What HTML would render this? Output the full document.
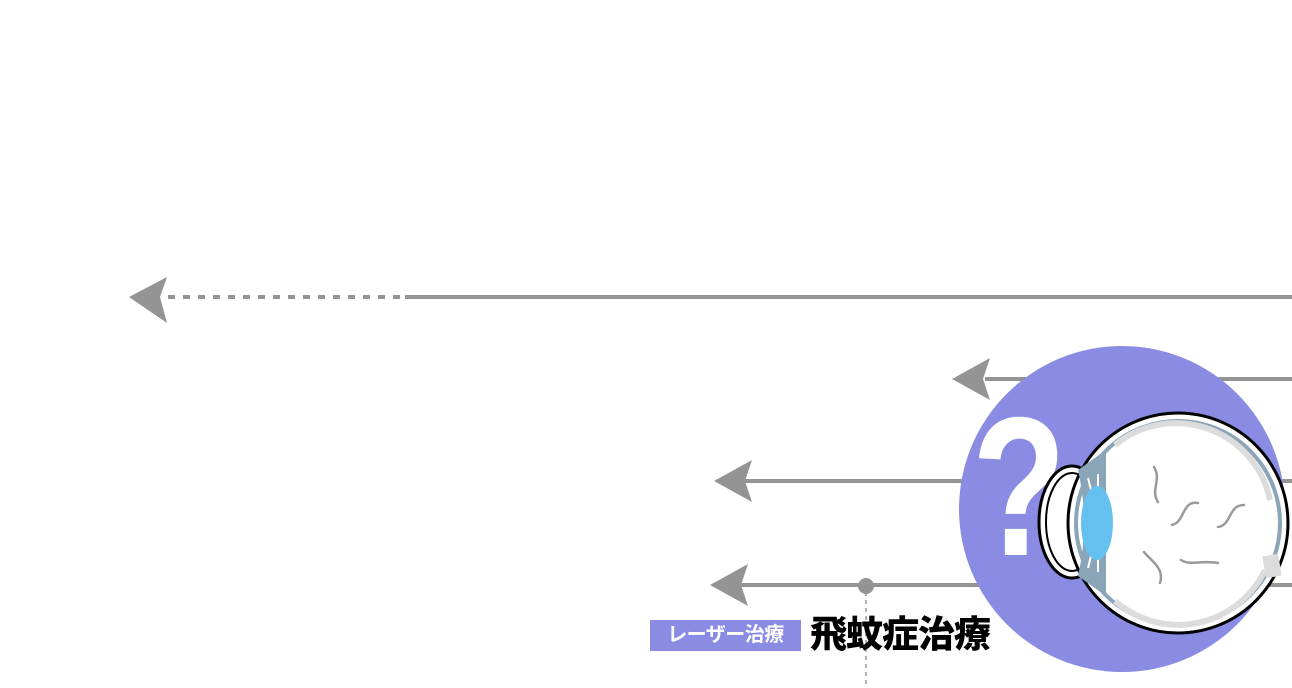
<!DOCTYPE html>
<html><head><meta charset="utf-8"><style>
html,body{margin:0;padding:0;background:#fff;}
body{width:1292px;height:688px;overflow:hidden;position:relative;font-family:"Liberation Sans","Noto Sans CJK JP",sans-serif;}
.lbl{position:absolute;left:650px;top:620px;width:151px;height:31px;background:#8a8be3;color:#fff;font-weight:bold;font-size:20px;line-height:31px;text-align:center;letter-spacing:-0.5px;}
.main{position:absolute;left:810px;top:612px;font-size:37px;font-weight:900;color:#000;line-height:46px;letter-spacing:-1px;}
</style></head><body>
<svg width="1292" height="688" style="position:absolute;left:0;top:0">
<g fill="#949494" stroke="none">
<path d="M129,297 L167,277 L160,297 L167,323 Z"/>
<path d="M952,379 L990,358 L983,379 L990,400 Z"/>
<path d="M714,481 L752,460 L745,481 L752,502 Z"/>
<path d="M710,585 L748,564 L741,585 L748,606 Z"/>
</g>
<line x1="168" y1="297" x2="405" y2="297" stroke="#949494" stroke-width="4" stroke-dasharray="7,8"/>
<line x1="405" y1="297" x2="1292" y2="297" stroke="#949494" stroke-width="4"/>
<line x1="985" y1="379" x2="1292" y2="379" stroke="#949494" stroke-width="4"/>
<line x1="745" y1="481" x2="1292" y2="481" stroke="#949494" stroke-width="4"/>
<line x1="741" y1="585" x2="1292" y2="585" stroke="#949494" stroke-width="4"/>
<line x1="866" y1="592" x2="866" y2="688" stroke="#999" stroke-width="1.5" stroke-dasharray="4,4"/>
<circle cx="866" cy="586" r="8" fill="#949494"/>
<circle cx="1122" cy="509" r="163" fill="#8a8be3"/>
<text transform="translate(1019,555) scale(0.78,1)" font-family="Liberation Sans,sans-serif" font-weight="900" font-size="198" fill="#fff" text-anchor="middle">?</text>
<ellipse cx="1072" cy="522" rx="33" ry="56" fill="#fff" stroke="#000" stroke-width="3"/>
<ellipse cx="1072" cy="522" rx="26" ry="49" fill="none" stroke="#000" stroke-width="2"/>
<circle cx="1178" cy="523" r="110" fill="#fff" stroke="#000" stroke-width="3"/>
<circle cx="1178" cy="523" r="102" fill="none" stroke="#8aa4b8" stroke-width="4"/>
<path d="M1115,445 A96,96 0 0 1 1270,500" fill="none" stroke="#dcdcdc" stroke-width="6"/>
<path d="M1115,601 A96,96 0 0 0 1265,570" fill="none" stroke="#dcdcdc" stroke-width="6"/>
<path d="M1078,470 L1106,450 L1106,596 L1078,576 Q1090,523 1078,470 Z" fill="#8aa4b8"/>
<g stroke="#fff" stroke-width="2">
<line x1="1088" y1="478" x2="1092" y2="494"/><line x1="1098" y1="474" x2="1098" y2="490"/>
<line x1="1088" y1="568" x2="1092" y2="552"/><line x1="1098" y1="572" x2="1098" y2="556"/>
</g>
<rect x="1264" y="555" width="16" height="22" fill="#dcdcdc" transform="rotate(-10 1272 566)"/>
<ellipse cx="1097" cy="523" rx="16" ry="37" fill="#64c1ef"/>
<g fill="none" stroke="#9a9a9a" stroke-width="2.5" stroke-linecap="round">
<path d="M1154,467 C1162,480 1150,490 1158,502"/>
<path d="M1172,525 C1185,522 1182,500 1198,503"/>
<path d="M1218,527 C1232,525 1228,505 1244,505"/>
<path d="M1144,552 C1150,560 1165,568 1160,583"/>
<path d="M1181,560 C1190,566 1200,560 1218,563"/>
</g>
</svg>
<div class="lbl">レーザー治療</div>
<div class="main">飛蚊症治療</div>
</body></html>
